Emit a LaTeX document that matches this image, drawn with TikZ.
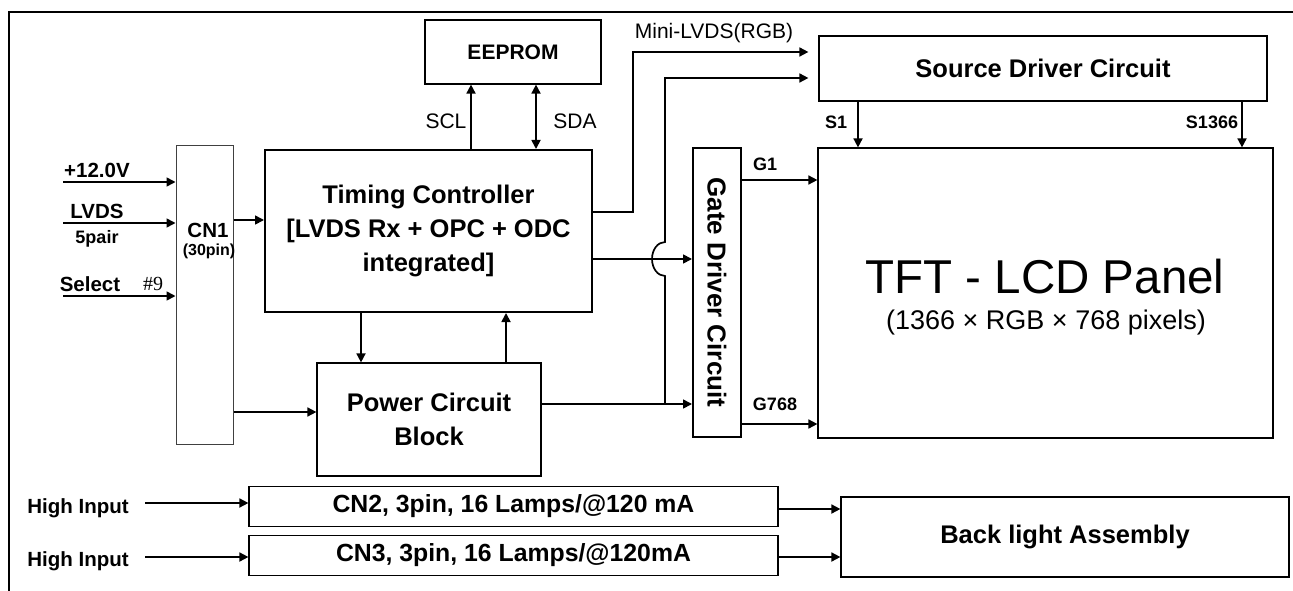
\documentclass[tikz,border=0pt]{standalone}
\usepackage{fontspec}
\setmainfont{Liberation Sans}
\newfontfamily\timesfont{Liberation Serif}
\usetikzlibrary{arrows.meta}

\tikzset{
  blk/.style={draw, line width=1.2pt, inner sep=0pt, align=center,
    font=\bfseries\fontsize{25.5}{34}\selectfont},
  arr/.style={->, line width=1.7pt},
  lab/.style={inner sep=0pt, font=\bfseries\fontsize{20.5}{24}\selectfont},
  sig/.style={inner sep=0pt, font=\fontsize{21}{24}\selectfont},
  pin/.style={inner sep=0pt, font=\bfseries\fontsize{18}{20}\selectfont}
}

\begin{document}
\begin{tikzpicture}[x=1pt, y=-1pt, >={Triangle[length=9pt,width=9pt]}]
  \useasboundingbox (0,0) rectangle (1293,591);
  \draw[line width=1.8pt] (9,591) -- (9,12) -- (1293,12);

  % blocks
  \node[blk, font=\bfseries\fontsize{21}{24}\selectfont, minimum width=176pt, minimum height=64pt] (eeprom) at (513,52) {EEPROM};
  \node[blk, minimum width=448pt, minimum height=65pt] (src) at (1043,68.5) {Source Driver Circuit};
  \node[blk, line width=2pt, minimum width=327pt, minimum height=162pt] (tcon) at (428.5,231) {Timing Controller\\{}[LVDS Rx + OPC + ODC\\integrated]};
  \node[blk, line width=1pt, draw=black!75, minimum width=57pt, minimum height=298pt] (cn1) at (204.5,295) {};
  \node[lab] (cn1lab) at (208,230) {CN1};
  \node[inner sep=0pt, font=\bfseries\fontsize{16}{18}\selectfont] (cn1pin) at (209,251) {(30pin)};
  \node[blk, line width=2pt, minimum width=48pt, minimum height=289pt] (gate) at (717,292.5) {};
  \node[inner sep=0pt, rotate=-90, font=\bfseries\fontsize{26}{30}\selectfont] (gatelab) at (gate.center) {Gate Driver Circuit};
  \node[blk, minimum width=455pt, minimum height=290pt] (panel) at (1045.5,293) {};
  \node[inner sep=0pt, font=\fontsize{47.5}{50}\selectfont] (paneltitle) at (1045,277) {TFT - LCD Panel};
  \node[inner sep=0pt, font=\fontsize{27}{30}\selectfont] (panelsub) at (1046,323) {(1366 × RGB × 768 pixels)};
  \node[blk, minimum width=224pt, minimum height=113pt] (power) at (429,419.5) {Power Circuit\\Block};
  \node[blk, font=\bfseries\fontsize{24.8}{30}\selectfont, minimum width=529pt, minimum height=40pt] (cn2) at (513.5,506.5) {CN2, 3pin, 16 Lamps/@120 mA};
  \node[blk, font=\bfseries\fontsize{24.8}{30}\selectfont, minimum width=529pt, minimum height=40pt] (cn3) at (513.5,555.5) {CN3, 3pin, 16 Lamps/@120mA};
  \node[blk, minimum width=448pt, minimum height=80pt] (bl) at (1065,537) {Back light Assembly};

  % inputs to CN1
  \node[lab] (v12) at (97,170) {+12.0V};
  \node[lab] (lvds) at (97,211) {LVDS};
  \node[pin] (pair) at (97,239) {5pair};
  \node[lab] (sel) at (90,284) {Select};
  \node[inner sep=0pt, font=\timesfont\fontsize{20}{22}\selectfont] (pin9) at (153,284) {\#9};
  \coordinate (v12in) at (63,182);
  \coordinate (lvdsin) at (63,223);
  \coordinate (selin) at (63,296);
  \draw[arr] (v12in) -- (v12in -| cn1.west);
  \draw[arr] (lvdsin) -- (lvdsin -| cn1.west);
  \draw[arr] (selin) -- (selin -| cn1.west);

  \draw[arr] (cn1.east |- 0,220) -- (tcon.west |- 0,220);
  \draw[arr] (cn1.east |- 0,412) -- (power.west |- 0,412);
  \draw[arr] (tcon.south -| 361,0) -- (power.north -| 361,0);
  \draw[arr] (power.north -| 506,0) -- (tcon.south -| 506,0);

  % EEPROM bus
  \draw[arr] (tcon.north -| 471,0) -- (eeprom.south -| 471,0);
  \draw[arr, <->] (tcon.north -| 536,0) -- (eeprom.south -| 536,0);
  \node[sig] (scl) at (446,121) {SCL};
  \node[sig] (sda) at (575,121) {SDA};

  % to source and gate drivers
  \node[sig] (mini) at (714,33) {Mini-LVDS(RGB)};
  \draw[arr, shorten >=10pt] (tcon.east |- 0,212) -| (633,52) -- (src.west |- 0,52);
  \draw[arr] (tcon.east |- 0,259) -- (gate.west |- 0,259);
  \draw[arr] (power.east |- 0,404) -- (gate.west |- 0,404);
  \coordinate (jn) at (665,404);
  \draw[arr, shorten >=10pt] (jn) -- (665,276) arc[start angle=90, end angle=270, x radius=13, y radius=17] -- (665,78) -- (src.west |- 0,78);

  \draw[arr] (gate.east |- 0,180) -- (panel.west |- 0,180);
  \draw[arr] (gate.east |- 0,424) -- (panel.west |- 0,424);
  \node[pin] (g1) at (765,164) {G1};
  \node[pin] (g768) at (775,404) {G768};
  \draw[arr] (src.south -| 858,0) -- (panel.north -| 858,0);
  \draw[arr] (src.south -| 1242,0) -- (panel.north -| 1242,0);
  \node[pin] (s1) at (836,122) {S1};
  \node[pin] (s1366) at (1212,122) {S1366};

  % back light
  \node[lab] (hi1) at (78,508) {High Input};
  \node[lab] (hi2) at (78,561) {High Input};
  \coordinate (hi1in) at (145,503);
  \coordinate (hi2in) at (145,557);
  \draw[arr] (hi1in) -- (hi1in -| cn2.west);
  \draw[arr] (hi2in) -- (hi2in -| cn3.west);
  \draw[arr] (cn2.east |- 0,509) -- (bl.west |- 0,509);
  \draw[arr] (cn3.east |- 0,557) -- (bl.west |- 0,557);
\end{tikzpicture}
\end{document}
